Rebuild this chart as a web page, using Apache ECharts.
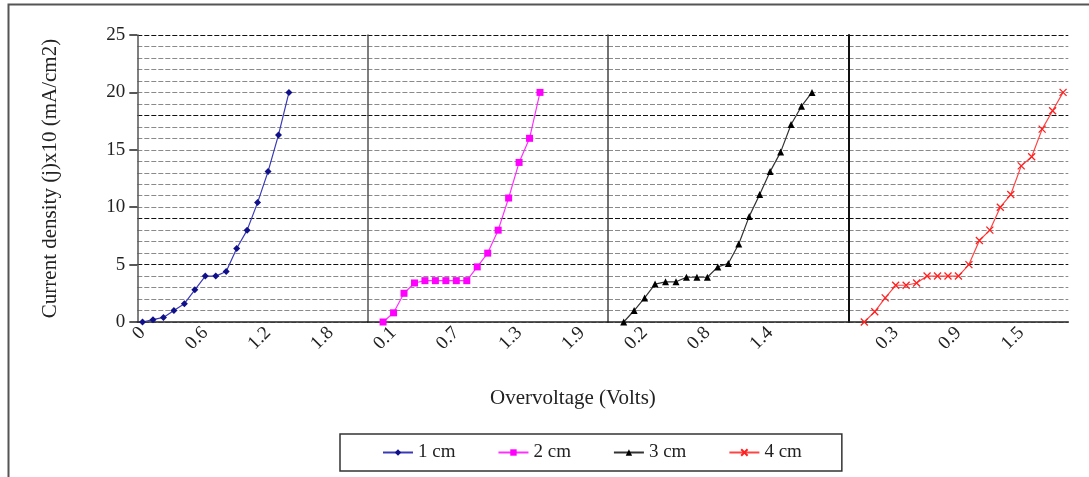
<!DOCTYPE html>
<html>
<head>
<meta charset="utf-8">
<script src="https://cdn.jsdelivr.net/npm/echarts@6/dist/echarts.min.js"></script>
<style>
html,body{margin:0;padding:0;background:#fff}
#chart{width:1089px;height:477px}
</style>
</head>
<body>
<div id="chart"></div>
<script>
// overvoltage categories for each panel ('' = empty slot)
var volts1 = ['0','0.1','0.2','0.3','0.4','0.5','0.6','0.7','0.8','0.9','1','1.1','1.2','1.3','1.4','1.5','1.6','1.7','1.8','1.9','2','2.1'];
var volts2 = ['','0','0.1','0.2','0.3','0.4','0.5','0.6','0.7','0.8','0.9','1','1.1','1.2','1.3','1.4','1.5','1.6','1.7','1.8','1.9','2','2.1'];
var volts3 = ['','0','0.1','0.2','0.3','0.4','0.5','0.6','0.7','0.8','0.9','1','1.1','1.2','1.3','1.4','1.5','1.6','1.7','1.8','1.9','',''];
var volts4 = ['','0','0.1','0.2','0.3','0.4','0.5','0.6','0.7','0.8','0.9','1','1.1','1.2','1.3','1.4','1.5','1.6','1.7','1.8','1.9'];

// current density (j)x10, mA/cm2
var cm1 = [0,0.2,0.4,1.0,1.6,2.8,4.0,4.0,4.4,6.4,8.0,10.4,13.1,16.3,20.0];
var cm2 = [null,0,0.8,2.5,3.4,3.6,3.6,3.6,3.6,3.6,4.8,6.0,8.0,10.8,13.9,16.0,20.0];
var cm3 = [null,0,1.0,2.1,3.3,3.5,3.5,3.9,3.9,3.9,4.8,5.1,6.8,9.2,11.1,13.1,14.8,17.2,18.8,20.0];
var cm4 = [null,0,0.9,2.1,3.2,3.2,3.4,4.0,4.0,4.0,4.0,5.0,7.1,8.0,10.0,11.1,13.6,14.4,16.8,18.4,20.0];

var seriesNames = ['1 cm','2 cm','3 cm','4 cm'];
var yTicks = [0,5,10,15,20,25];

var chart = echarts.init(document.getElementById('chart'));
var font = '"Liberation Serif", "Times New Roman", serif';

var cats = [volts1, volts2, volts3, volts4];
var datas = [cm1, cm2, cm3, cm4];
var labelStart = [0, 22, 45, 68];   // running category count before each panel
var gl = [137.3, 367.4, 608, 848.6];
var gw = [230.1, 240.6, 240.6, 219.7];
var divColor = ['#555', '#555', '#444', '#111'];

// gridline colours (some lines look darker in the picture)
var gridCols = [];
for (var v = 0; v <= 25; v++) {
    gridCols.push([5, 9, 18, 25].indexOf(v) >= 0 ? '#111' : '#8a8a8a');
}

var looks = [
    {line: '#3a3ab8', mark: '#10108a', symbol: 'diamond', size: 7},
    {line: '#ff30ff', mark: '#ff00ff', symbol: 'rect', size: 7},
    {line: '#333333', mark: '#000000', symbol: 'triangle', size: 7},
    {line: '#ff4444', mark: '#ff2020', symbol: 'path://M0,0L10,10M10,0L0,10', size: 7}
];

var grids = [], xAxes = [], yAxes = [], series = [];
for (var i = 0; i < 4; i++) {
    grids.push({left: gl[i], width: gw[i], top: 35, height: 287, outerBoundsMode: 'none', containLabel: false});
    (function (k) {
        xAxes.push({
            type: 'category', gridIndex: k, data: cats[k], boundaryGap: true,
            axisLine: {lineStyle: {color: '#222', width: 1.5}},
            axisTick: {interval: 0, length: 6, lineStyle: {color: '#222', width: 1.5}},
            axisLabel: {
                interval: function (idx) { return (labelStart[k] + idx) % 6 === 0; },
                rotate: 45, margin: 8, color: '#222', fontFamily: font, fontSize: 19
            },
            splitLine: {show: false}
        });
    })(i);
    // one unit gridlines + panel divider
    yAxes.push({
        type: 'value', gridIndex: i, min: 0, max: 25, interval: 1,
        axisLine: {show: true, lineStyle: {color: divColor[i], width: i === 3 ? 2 : 1.5}},
        axisTick: {show: false},
        axisLabel: {show: false},
        splitLine: {show: true, lineStyle: {color: gridCols, type: [5, 2], width: 1.2}}
    });
    series.push({
        name: seriesNames[i], type: 'line', xAxisIndex: i, yAxisIndex: i,
        data: datas[i], symbol: looks[i].symbol, symbolSize: looks[i].size,
        showSymbol: true, showAllSymbol: true,
        lineStyle: {color: looks[i].line, width: 1.2},
        itemStyle: {color: looks[i].mark, borderColor: looks[i].mark, borderWidth: i === 3 ? 1.3 : 0},
        z: 5
    });
}
// labelled axis on the first panel
yAxes.push({
    type: 'value', gridIndex: 0, min: 0, max: 25, interval: 5, position: 'left',
    name: 'Current density (j)x10 (mA/cm2)',
    nameLocation: 'middle', nameGap: 76,
    nameTextStyle: {fontFamily: font, fontSize: 21, color: '#222'},
    axisLine: {show: false},
    axisTick: {show: true, length: 8, lineStyle: {color: '#222', width: 1.5}},
    axisLabel: {show: true, margin: 12, color: '#222', fontFamily: font, fontSize: 19,
        formatter: function (val) { return yTicks.indexOf(val) >= 0 ? val : ''; }},
    splitLine: {show: false}
});

var option = {
    animation: false,
    backgroundColor: '#fff',
    title: {
        text: 'Overvoltage (Volts)', left: 485, top: 383,
        textStyle: {fontFamily: font, fontSize: 21, fontWeight: 'normal', color: '#222'}
    },
    legend: {
        data: seriesNames, left: 340, top: 434,
        padding: [9, 40, 9, 42], itemGap: 42, itemWidth: 30, itemHeight: 8,
        borderColor: '#333', borderWidth: 1.5,
        textStyle: {fontFamily: font, fontSize: 19, color: '#222'}
    },
    graphic: [{
        type: 'rect', left: 6, top: 2, silent: true,
        shape: {width: 1200, height: 600},
        style: {fill: 'none', stroke: '#555', lineWidth: 2}
    }],
    grid: grids,
    xAxis: xAxes,
    yAxis: yAxes,
    series: series
};
chart.setOption(option);
</script>
</body>
</html>
